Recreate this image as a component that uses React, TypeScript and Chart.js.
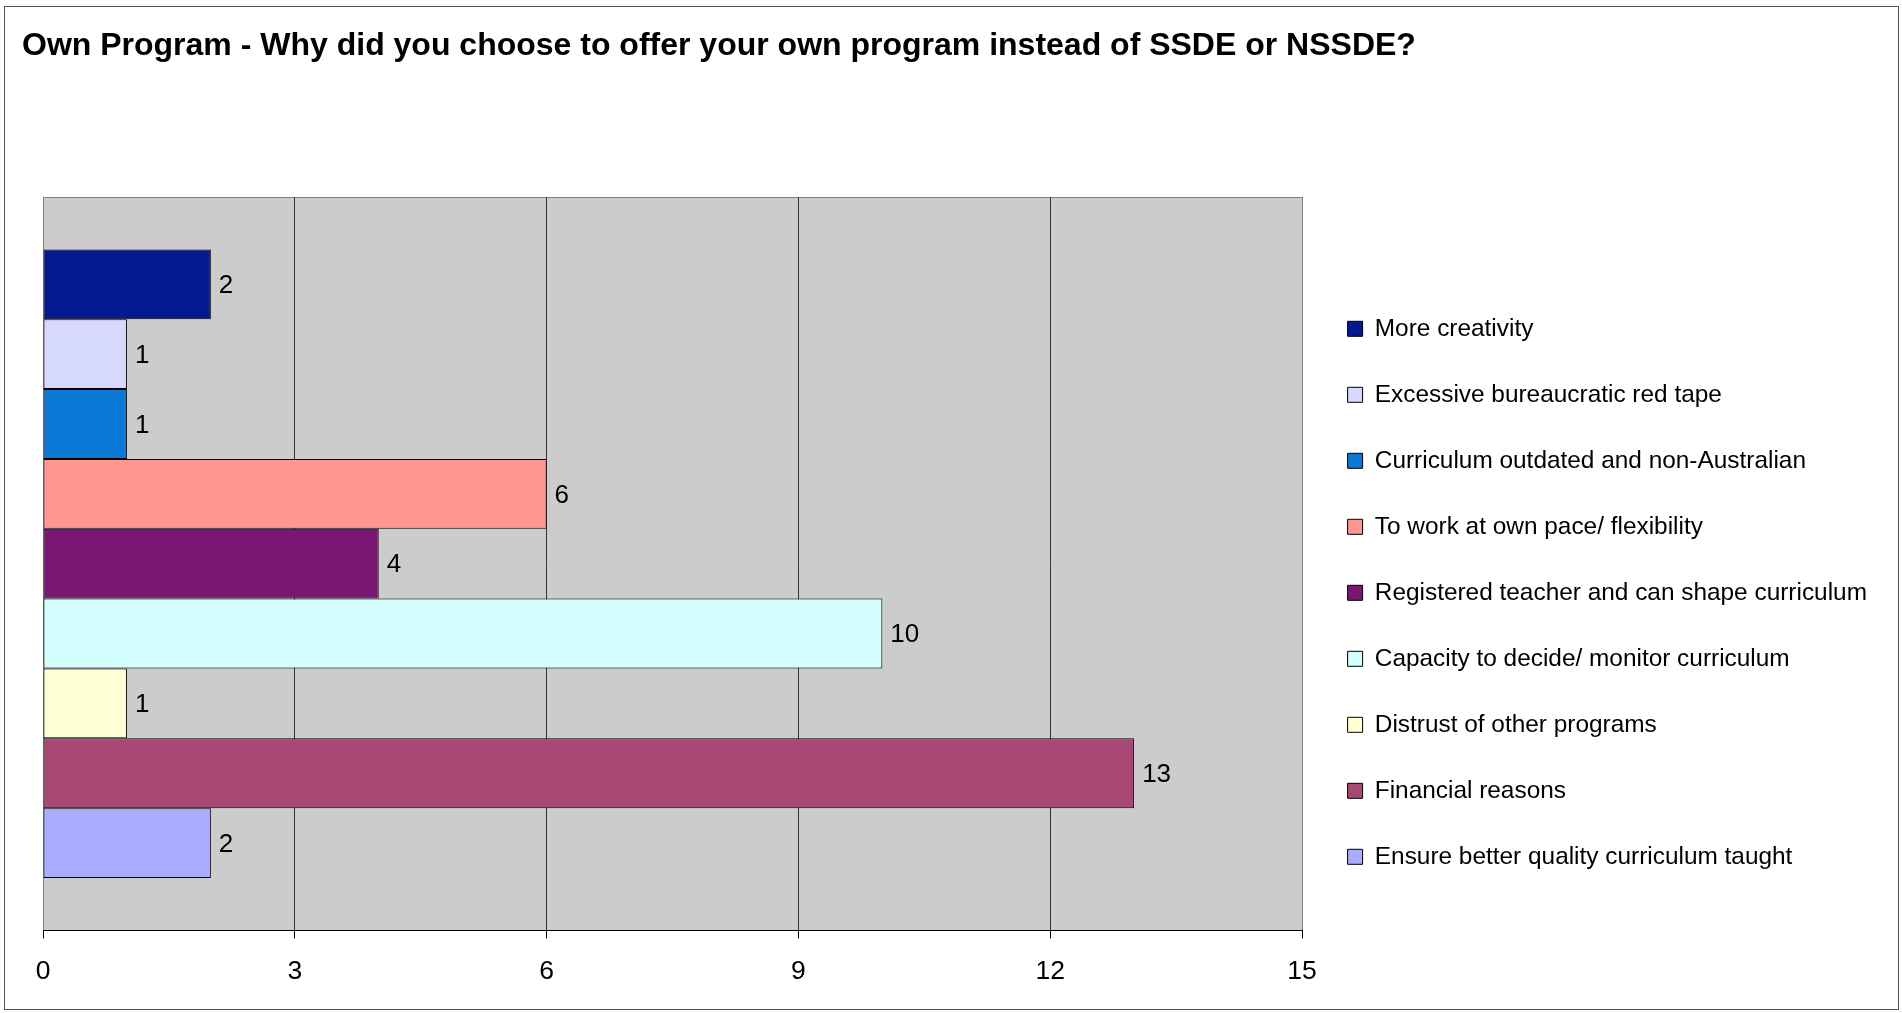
import React, { useEffect, useRef } from "react";
import { Chart, registerables } from "chart.js";

Chart.register(...registerables);

const TITLE = "Own Program - Why did you choose to offer your own program instead of SSDE or NSSDE?";
const CATEGORIES = [""];
const SERIES_NAMES = [
  "More creativity",
  "Excessive bureaucratic red tape",
  "Curriculum outdated and non-Australian",
  "To work at own pace/ flexibility",
  "Registered teacher and can shape curriculum",
  "Capacity to decide/ monitor curriculum",
  "Distrust of other programs",
  "Financial reasons",
  "Ensure better quality curriculum taught",
];
const SERIES_VALUES = [2, 1, 1, 6, 4, 10, 1, 13, 2];
const SERIES_COLORS = [
  "#02198F",
  "#D6D8FD",
  "#0A78D4",
  "#FF9690",
  "#7A1772",
  "#D4FDFD",
  "#FFFFD6",
  "#A84874",
  "#A9ACFF",
];
const X_MIN = 0;
const X_MAX = 15;
const X_STEP = 3;

const FAMILY = 'Arial, "Liberation Sans", sans-serif';
const W = 1902;
const H = 1013;
const LEGEND_FONT = 24.4;
const LEGEND_PAD = 41.6;
const LEGEND_BOX = 15;
const PLOT_RIGHT_GAP = 4;
const LEGEND_LEFT = 1302 + PLOT_RIGHT_GAP;

function measureMax(texts: string[], font: string): number {
  const c = document.createElement("canvas");
  const ctx = c.getContext("2d")!;
  ctx.font = font;
  let m = 0;
  for (const t of texts) m = Math.max(m, ctx.measureText(t).width);
  return m;
}

const backgroundPlugin = {
  id: "bgPlugin",
  beforeDraw(chart: any) {
    const { ctx, chartArea } = chart;
    ctx.save();
    ctx.strokeStyle = "#555555";
    ctx.lineWidth = 1;
    ctx.strokeRect(4.5, 6.5, W - 8, H - 10);
    const l = Math.round(chartArea.left);
    const t = Math.round(chartArea.top);
    const r = Math.round(chartArea.right);
    const b = Math.round(chartArea.bottom);
    ctx.fillStyle = "#CCCCCC";
    ctx.fillRect(l, t, r - l, b - t);
    ctx.strokeStyle = "#808080";
    ctx.strokeRect(l + 0.5, t + 0.5, r - l, b - t);
    ctx.restore();
  },
};

const dataLabelPlugin = {
  id: "dataLabels",
  afterDatasetsDraw(chart: any) {
    const { ctx } = chart;
    ctx.save();
    ctx.font = `26px ${FAMILY}`;
    ctx.fillStyle = "#000";
    ctx.textAlign = "left";
    ctx.textBaseline = "middle";
    chart.data.datasets.forEach((ds: any, i: number) => {
      const meta = chart.getDatasetMeta(i);
      meta.data.forEach((el: any, j: number) => {
        ctx.fillText(String(ds.data[j]), el.x + 8, el.y + 1.5);
      });
    });
    ctx.restore();
  },
};

export default function App() {
  const ref = useRef<HTMLCanvasElement | null>(null);

  useEffect(() => {
    if (!ref.current) return;
    const textW = measureMax(SERIES_NAMES, `${LEGEND_FONT}px ${FAMILY}`);
    const legendWidth = LEGEND_PAD + LEGEND_BOX + LEGEND_FONT / 2 + textW + 10;
    const padRight = Math.max(0, W - LEGEND_LEFT - legendWidth);

    const chart = new Chart(ref.current, {
      type: "bar",
      data: {
        labels: CATEGORIES,
        datasets: SERIES_NAMES.map((name, i) => ({
          label: name,
          data: [SERIES_VALUES[i]],
          backgroundColor: SERIES_COLORS[i],
          borderColor: "#000000",
          borderWidth: 1,
          borderSkipped: false,
          categoryPercentage: 630 / 735,
          barPercentage: 1,
        })),
      },
      options: {
        indexAxis: "y",
        animation: false,
        responsive: false,
        maintainAspectRatio: false,
        layout: { padding: { top: 0, left: 22, right: padRight, bottom: 8.8 } },
        scales: {
          x: {
            type: "linear",
            position: "bottom",
            min: X_MIN,
            max: X_MAX,
            ticks: {
              stepSize: X_STEP,
              color: "#000",
              padding: 17,
              font: { size: 26.5, family: FAMILY },
            },
            grid: {
              display: true,
              drawOnChartArea: true,
              drawTicks: true,
              tickLength: 8,
              tickColor: "#000",
              lineWidth: 1,
              color: (c: any) =>
                c.tick && (c.tick.value === X_MIN || c.tick.value === X_MAX) ? "#808080" : "#333333",
            },
            border: { display: true, color: "#000", width: 1 },
          },
          y: {
            type: "category",
            position: "left",
            grid: { display: false },
            border: { display: false },
            ticks: { display: false },
            afterFit: (s: any) => {
              s.width = 21;
            },
          },
          y2: {
            type: "linear",
            position: "right",
            grid: { display: false },
            border: { display: false },
            ticks: { display: false },
            afterFit: (s: any) => {
              s.width = PLOT_RIGHT_GAP;
            },
          },
        },
        plugins: {
          title: {
            display: true,
            text: TITLE,
            align: "start",
            color: "#000",
            font: { size: 32, weight: "bold", family: FAMILY },
            padding: { top: 26.8, bottom: 131.8 },
          },
          legend: {
            display: true,
            position: "right",
            align: "start",
            maxWidth: 1200,
            title: {
              display: true,
              text: " ",
              font: { size: 10, family: FAMILY },
              padding: { top: 263, bottom: 0 },
            },
            labels: {
              color: "#000",
              font: { size: LEGEND_FONT, family: FAMILY },
              boxWidth: LEGEND_BOX,
              boxHeight: LEGEND_BOX,
              padding: LEGEND_PAD,
            },
          },
          tooltip: { enabled: false },
        },
      },
      plugins: [backgroundPlugin, dataLabelPlugin],
    } as any);

    return () => chart.destroy();
  }, []);

  return (
    <div style={{ position: "fixed", left: 0, top: 0, width: W, height: H, background: "#fff" }}>
      <canvas ref={ref} width={W} height={H} style={{ display: "block", width: W, height: H }} />
    </div>
  );
}
